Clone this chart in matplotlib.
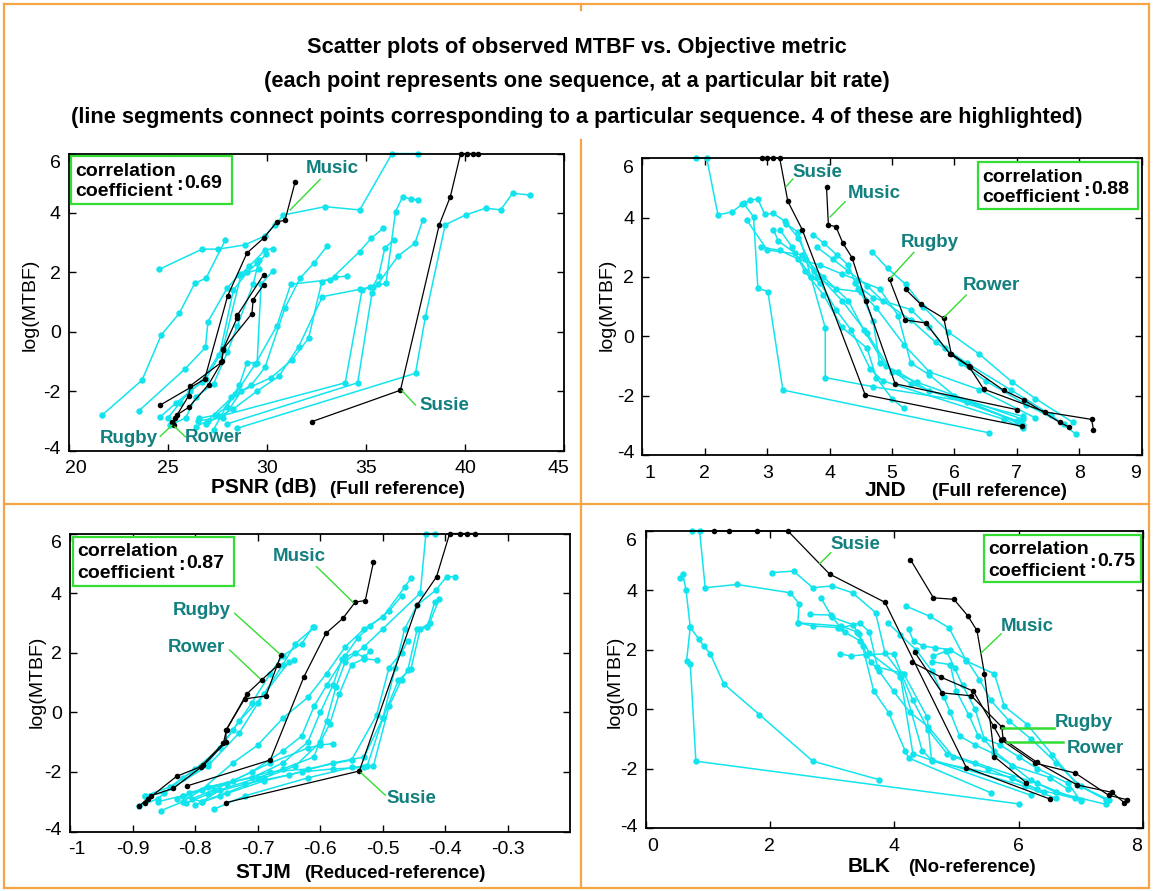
import matplotlib
matplotlib.use('Agg')
import matplotlib.pyplot as plt
from matplotlib.lines import Line2D
from matplotlib.patches import Rectangle
from matplotlib.ticker import FuncFormatter
from matplotlib.transforms import ScaledTranslation

plt.rcParams['font.family'] = ['Liberation Sans', 'DejaVu Sans']
plt.rcParams['axes.unicode_minus'] = False

W, H = 1153, 891

# log(MTBF) of the four highlighted sequences (same in every panel)
susie_y = [-3.03, -1.97, 3.6, 4.55, 6.0, 6.0, 6.0, 6.0]
music_y = [5.04, 3.75, 3.7, 3.15, 2.65, 1.2, -1.6, -2.47]
rugby_y = [1.92, 0.55, 0.45, -0.6, -1.0, -1.78, -2.55, -2.8, -3.15]
rower_y = [1.58, 1.08, 0.61, -0.58, -1.03, -1.82, -2.15, -2.9, -3.05]

# metric values of the highlighted sequences
psnr_susie = [32.26, 36.74, 38.70, 39.26, 39.78, 40.12, 40.41, 40.68]
psnr_music = [31.42, 30.91, 30.5, 29.83, 28.99, 28.01, 26.85, 24.61]
psnr_rugby = [29.83, 28.5, 28.48, 27.78, 27.73, 27.05, 26.04, 25.45, 25.29]
psnr_rower = [29.83, 29.3, 29.24, 27.8, 27.7, 26.13, 26.05, 25.37, 25.2]

jnd_susie = [7.08, 4.57, 3.56, 3.33, 3.2, 3.1, 3.0, 2.92]
jnd_music = [3.95, 3.98, 4.1, 4.21, 4.36, 4.58, 5.05, 7.0]
jnd_rugby = [4.96, 5.21, 5.54, 5.93, 6.23, 6.47, 7.46, 8.2, 8.23]
jnd_rower = [5.22, 5.46, 5.83, 5.95, 6.25, 6.79, 7.12, 7.69, 7.83]

stjm_susie = [-0.751, -0.5375, -0.445, -0.414, -0.393, -0.377, -0.365, -0.353]
stjm_music = [-0.515, -0.528, -0.544, -0.564, -0.591, -0.626, -0.680, -0.813]
stjm_rugby = [-0.663, -0.687, -0.721, -0.751, -0.751, -0.787, -0.835, -0.871, -0.89]
stjm_rower = [-0.668, -0.694, -0.718, -0.75, -0.755, -0.791, -0.83, -0.875, -0.88]

blk_susie = [6.51, 5.16, 3.85, 2.96, 2.29, 1.80, 1.35, 1.10]
blk_music = [4.26, 4.63, 4.96, 5.18, 5.33, 5.45, 5.61, 6.12]
blk_rugby = [4.33, 4.77, 5.24, 5.73, 5.75, 6.29, 6.94, 7.5, 7.7]
blk_rower = [4.29, 4.75, 5.27, 5.6, 5.72, 6.27, 6.91, 7.45, 7.75]

# the other sequences, (metric, log(MTBF)) points
psnr_bg1 = [(21.67, -2.81), (23.69, -1.63), (24.66, -0.11), (25.57, 0.62), (26.35, 1.63), (26.92, 1.8), (27.9, 3.09)]
psnr_bg2 = [(24.56, 2.1), (26.72, 2.78), (27.53, 2.78), (28.87, 2.92), (29.88, 3.22), (30.42, 3.6), (30.83, 3.93),
            (32.94, 4.21), (34.68, 4.1), (36.32, 6.0), (37.64, 6.0)]
psnr_bg3 = [(23.52, -2.67), (25.88, -1.24), (26.89, -0.53), (27.02, 0.34), (27.98, 1.46), (28.57, 1.91), (29.6, 2.1)]
psnr_bg4 = [(24.61, -2.87), (25.4, -2.4), (26.7, -1.7), (27.8, -0.5), (28.7, 1.95), (29.1, 2.2), (29.9, 2.75), (30.3, 2.8)]
psnr_bg5 = [(26.55, -2.92), (27.39, -2.81), (27.98, -2.53), (28.6, -1.8), (28.99, -1.04), (29.5, -1.05), (29.7, 1.6), (30.3, 2.05)]
psnr_bg6 = [(25.1, -3.15), (25.9, -2.9), (26.4, -2.2), (27.3, -1.75), (28.0, -0.7), (28.5, 0.2), (29.3, 1.6), (29.6, 2.4)]
psnr_bg7 = [(27.3, -3.3), (28.2, -2.2), (29.2, -1.8), (29.9, -1.2), (30.9, 0.79), (31.67, 1.8), (32.35, 2.3), (33.02, 2.87)]
psnr_bg8 = [(26.5, -3.0), (27.8, -2.9), (28.7, -2.0), (30.2, -1.55), (31.25, -0.96), (32.1, -0.22), (32.77, 1.69),
            (33.45, 1.83), (34.04, 1.88)]
psnr_bg9 = [(26.9, -3.1), (28.3, -2.6), (29.5, -2.0), (30.6, -1.5), (31.6, -0.5), (32.8, 1.18), (34.71, 1.43),
            (35.35, 1.52), (35.64, 1.88), (35.95, 2.81), (36.4, 3.1)]
psnr_bg10 = [(28.5, -3.25), (37.5, -1.4), (38.0, 0.5), (39.0, 3.6), (40.03, 3.93), (41.05, 4.16), (41.8, 4.1),
             (42.4, 4.66), (43.3, 4.6)]
psnr_bg11 = [(28.0, -3.1), (34.58, -1.72), (35.3, 1.3), (35.6, 1.6), (36.62, 2.55), (37.47, 2.98), (37.87, 3.76)]
psnr_bg12 = [(27.6, -2.85), (33.95, -1.72), (34.8, 1.4), (35.2, 1.5), (36.01, 1.63), (36.49, 4.04), (36.86, 4.55),
             (37.25, 4.46), (37.64, 4.44)]
psnr_bg13 = [(26.4, -3.2), (27.0, -3.0), (28.4, -2.1), (29.4, -1.1), (30.5, 0.2), (31.2, 1.6), (33.2, 1.75),
             (34.68, 2.7), (35.27, 3.15), (35.86, 3.48)]
psnr_bg14 = [(25.0, -2.9), (25.6, -2.4), (26.1, -2.0), (26.9, -1.6), (27.6, -0.8), (28.3, 1.4), (29.0, 2.0),
             (29.5, 2.3), (29.95, 2.6)]

jnd_bg1 = [(1.85, 6.0), (2.03, 6.0), (2.21, 4.09), (2.44, 4.2), (2.6, 4.45), (2.73, 4.6), (2.85, 4.62), (2.96, 4.11),
           (3.09, 4.15), (3.29, 3.87), (3.5, 3.3), (3.75, 2.2), (4.2, 1.2), (4.6, 0.1), (5.0, -1.2), (5.4, -1.55), (7.1, -2.8)]
jnd_bg2 = [(2.62, 4.48), (2.78, 4.03), (2.85, 1.62), (3.01, 1.51), (3.25, -1.81), (6.55, -3.25)]
jnd_bg3 = [(2.67, 3.92), (3.0, 2.91), (3.55, 2.75), (3.9, 2.0), (4.3, 1.2), (4.55, 0.2), (4.9, -1.0), (5.3, -1.6), (7.0, -2.85)]
jnd_bg4 = [(3.1, 3.58), (3.18, 3.21), (3.45, 2.8), (3.7, 2.0), (3.93, 0.29), (3.93, -1.39), (4.7, -1.7), (6.2, -2.2), (7.05, -2.9)]
jnd_bg5 = [(3.74, 3.42), (3.91, 3.13), (4.12, 2.74), (4.3, 2.4), (4.45, 1.6), (4.75, 0.95), (5.2, -0.3), (5.6, -1.2),
           (6.4, -1.8), (7.3, -2.75)]
jnd_bg6 = [(4.68, 2.85), (4.93, 2.29), (5.22, 1.75), (5.5, 1.0), (5.9, 0.15), (6.4, -0.6), (6.92, -1.53), (7.3, -2.1), (7.9, -2.9)]
jnd_bg7 = [(4.4, 1.8), (4.7, 1.3), (5.3, 0.9), (5.6, 0.3), (5.85, -0.4), (6.1, -0.9), (6.5, -1.5), (7.15, -2.3), (7.75, -2.95)]
jnd_bg8 = [(3.6, 2.6), (3.8, 2.0), (4.1, 1.6), (4.5, 1.5), (4.7, 0.5), (4.8, -0.9), (5.1, -1.2), (5.6, -1.85), (7.1, -2.7)]
jnd_bg9 = [(3.3, 3.8), (3.5, 3.5), (3.7, 2.0), (3.85, 1.8), (4.1, 0.9), (4.35, 0.2), (4.65, -1.1), (4.85, -1.5),
           (6.8, -2.8), (7.1, -3.1)]
jnd_bg10 = [(3.2, 3.6), (3.4, 3.0), (3.6, 2.2), (3.9, 1.4), (4.2, 0.3), (4.6, -0.4), (4.75, -1.4), (5.0, -2.1), (5.19, -2.43)]
jnd_bg11 = [(3.8, 3.0), (4.05, 2.6), (4.3, 2.2), (4.6, 1.7), (4.85, 1.2), (5.3, 0.55), (5.7, -0.2), (6.2, -0.9),
            (6.9, -1.8), (7.55, -2.65), (7.95, -3.3)]
jnd_bg12 = [(2.9, 3.0), (3.2, 2.9), (3.5, 2.6), (3.85, 2.4), (4.2, 2.1), (4.45, 1.9), (4.8, 1.6), (5.1, 0.7),
            (5.3, -0.9), (5.6, -1.3), (6.0, -2.0), (7.1, -3.0)]

stjm_bg1 = [(-0.89, -3.15), (-0.86, -2.9), (-0.82, -2.2), (-0.78, -1.7), (-0.74, -0.6), (-0.71, 0.3), (-0.68, 1.3),
            (-0.66, 1.9), (-0.63, 2.3), (-0.612, 2.85)]
stjm_bg2 = [(-0.88, -2.8), (-0.84, -2.5), (-0.80, -1.9), (-0.76, -1.2), (-0.73, -0.3), (-0.69, 0.6), (-0.65, 1.7), (-0.642, 1.75)]
stjm_bg3 = [(-0.855, -3.3), (-0.82, -3.0), (-0.79, -2.6), (-0.74, -1.7), (-0.70, -1.1), (-0.66, -0.2), (-0.62, 0.5),
            (-0.59, 1.3), (-0.56, 2.2), (-0.53, 2.8), (-0.50, 3.2), (-0.465, 4.2), (-0.455, 4.5)]
stjm_bg4 = [(-0.82, -2.8), (-0.79, -3.0), (-0.76, -2.6), (-0.70, -2.2), (-0.66, -1.9), (-0.61, -1.5), (-0.59, -0.3),
            (-0.575, 0.85), (-0.56, 1.7), (-0.53, 2.2), (-0.50, 2.8), (-0.44, 4.0), (-0.431, 6.0), (-0.416, 6.0)]
stjm_bg5 = [(-0.815, -3.05), (-0.78, -2.75), (-0.72, -2.4), (-0.65, -2.1), (-0.58, -1.7), (-0.53, -1.5), (-0.50, -0.2),
            (-0.48, 1.5), (-0.465, 2.8), (-0.445, 3.6), (-0.415, 4.1), (-0.398, 4.55), (-0.384, 4.55)]
stjm_bg6 = [(-0.80, -3.1), (-0.76, -2.8), (-0.69, -2.3), (-0.63, -2.0), (-0.58, -1.9), (-0.53, -1.85), (-0.515, -1.8),
            (-0.49, 0.2), (-0.47, 1.1), (-0.46, 1.42), (-0.445, 2.79), (-0.429, 2.85), (-0.417, 3.7)]
stjm_bg7 = [(-0.805, -2.9), (-0.77, -2.6), (-0.71, -2.0), (-0.66, -1.3), (-0.63, -0.8), (-0.61, 0.2), (-0.59, 0.9),
            (-0.56, 1.9), (-0.54, 2.5), (-0.52, 2.9), (-0.49, 3.4), (-0.47, 3.9)]
stjm_bg8 = [(-0.79, -3.0), (-0.75, -2.7), (-0.69, -2.2), (-0.64, -1.8), (-0.6, -1.0), (-0.585, -0.4), (-0.57, 0.6),
            (-0.55, 1.6), (-0.53, 1.8), (-0.51, 1.75)]
stjm_bg9 = [(-0.81, -2.7), (-0.74, -2.3), (-0.68, -1.7), (-0.62, -1.2), (-0.60, -1.1), (-0.58, -1.05)]
stjm_bg10 = [(-0.83, -2.9), (-0.78, -2.5), (-0.71, -2.2), (-0.66, -1.7), (-0.62, -1.0), (-0.60, 0.0), (-0.58, 0.9),
             (-0.565, 1.8), (-0.545, 2.0), (-0.53, 1.85), (-0.52, 2.05)]
stjm_bg11 = [(-0.77, -3.25), (-0.72, -2.8), (-0.62, -2.2), (-0.55, -1.85), (-0.525, -1.8), (-0.5, -0.2), (-0.475, 1.08),
             (-0.455, 1.45), (-0.44, 2.8), (-0.425, 3.0), (-0.41, 3.8)]
stjm_bg12 = [(-0.86, -3.0), (-0.82, -2.8), (-0.75, -2.4), (-0.68, -2.0), (-0.62, -1.9), (-0.55, -1.6), (-0.51, -0.1),
             (-0.49, 1.5), (-0.47, 2.0), (-0.46, 2.4)]
stjm_bg13 = [(-0.88, -2.8), (-0.85, -2.7), (-0.78, -1.8), (-0.73, -0.7), (-0.70, 0.3), (-0.66, 1.6), (-0.64, 2.3), (-0.61, 2.85)]

blk_bg1 = [(0.75, 6.0), (0.87, 6.0), (0.96, 4.09), (1.47, 4.2), (2.33, 3.92), (2.47, 3.55), (2.45, 2.91), (3.15, 2.8),
           (3.4, 2.6), (3.6, 1.9), (4.1, 1.1), (4.3, -1.5), (6.2, -2.9)]
blk_bg2 = [(0.55, 4.43), (0.6, 4.54), (0.65, 4.03), (0.72, 2.76), (0.66, 1.62), (0.72, 1.51), (0.81, -1.75), (6.01, -3.19)]
blk_bg3 = [(0.72, 2.76), (0.86, 2.35), (0.94, 2.12), (1.04, 1.87), (1.26, 0.85), (1.83, -0.18), (2.69, -1.75), (3.75, -2.37)]
blk_bg4 = [(2.04, 4.6), (2.38, 4.65), (2.69, 4.09), (3.0, 4.15), (3.33, 3.92), (3.7, 3.25), (3.85, 1.9), (4.1, 1.2),
           (4.45, -1.4), (4.6, -1.7), (6.1, -2.6), (6.6, -3.0)]
blk_bg5 = [(2.82, 3.75), (3.0, 3.1), (3.33, 2.85), (3.43, 2.54), (3.49, 2.12), (3.67, 0.61), (3.91, -0.12), (4.18, -1.42),
           (4.23, -1.64), (5.56, -2.82)]
blk_bg6 = [(2.64, 3.19), (2.98, 3.17), (3.14, 2.74), (3.45, 2.9), (3.6, 2.6), (3.73, 1.42), (4.15, 1.2), (4.53, -0.27),
           (4.6, -1.75), (5.9, -2.3), (6.4, -2.8)]
blk_bg7 = [(3.12, 1.87), (3.3, 1.79), (3.54, 1.84), (3.99, 1.87), (4.12, 1.17), (4.3, 0.3), (4.55, -0.7), (4.85, -1.5),
           (5.3, -1.8), (6.3, -2.5), (6.9, -3.0)]
blk_bg8 = [(2.45, 2.91), (2.7, 2.8), (3.1, 2.75), (3.2, 2.6), (3.45, 2.3), (3.62, 1.6), (3.75, 1.3), (3.99, 0.6),
           (4.25, -0.1), (4.55, -0.6), (4.95, -1.6), (5.5, -2.0), (6.3, -2.7), (7.0, -3.05)]
blk_bg9 = [(4.19, 3.47), (4.57, 3.13), (4.88, 2.74), (5.16, 1.62), (5.61, 1.19), (5.77, 0.1), (6.14, -0.52),
           (6.54, -1.53), (6.94, -2.54), (7.4, -3.05)]
blk_bg10 = [(4.23, 2.69), (4.31, 2.29), (4.47, 2.12), (4.66, 2.07), (4.89, 2.01), (5.16, 1.67), (5.37, 1.0), (5.55, 0.3),
            (5.85, -0.4), (6.2, -1.0), (6.6, -1.8), (7.0, -2.6), (7.45, -3.05)]
blk_bg11 = [(4.63, 1.79), (4.84, 1.96), (4.97, 1.39), (5.1, 0.8), (5.3, 0.0), (5.45, -1.02), (5.6, -1.4), (5.9, -1.9),
            (6.2, -2.4), (6.6, -2.8), (7.4, -3.2)]
blk_bg12 = [(4.6, 1.6), (4.9, 1.5), (5.0, 0.6), (5.2, -0.2), (5.35, -0.9), (5.7, -1.2), (6.0, -1.6), (6.3, -2.0),
            (6.8, -2.5), (7.0, -3.1)]
blk_bg13 = [(3.9, 2.9), (4.1, 2.5), (4.35, 2.0), (4.6, 1.3), (4.8, 0.4), (4.9, -0.1), (5.05, -0.9), (5.3, -1.2),
            (5.6, -1.5), (5.9, -1.9), (6.5, -2.3), (6.8, -2.7)]

# sequence labels: (name, label centre, leader start, leader end, leader width)
psnr_notes = [('Music', (33.28, 5.5), (32.69, 5.13), (31.17, 4.1), 1.0),
              ('Susie', (38.94, -2.5), (37.5, -2.47), (36.82, -1.99), 1.0),
              ('Rugby', (23.01, -3.6), (24.61, -3.52), (25.2, -3.15), 1.0),
              ('Rower', (27.31, -3.56), (25.88, -3.54), (25.34, -3.2), 1.0)]
jnd_notes = [('Susie', (3.8, 5.53), (3.41, 5.3), (3.3, 5.04), 1.0),
             ('Music', (4.72, 4.82), (4.25, 4.54), (4.01, 4.03), 1.0),
             ('Rugby', (5.61, 3.17), (5.35, 2.83), (4.96, 1.93), 1.0),
             ('Rower', (6.6, 1.71), (6.19, 1.39), (5.83, 0.63), 1.0)]
stjm_notes = [('Music', (-0.633, 5.22), (-0.606, 4.89), (-0.547, 3.68), 1.0),
              ('Rugby', (-0.79, 3.43), (-0.737, 3.32), (-0.665, 1.96), 1.0),
              ('Rower', (-0.798, 2.18), (-0.745, 2.09), (-0.697, 1.14), 1.0),
              ('Susie', (-0.454, -2.89), (-0.496, -2.78), (-0.535, -2.03), 1.0)]
blk_notes = [('Susie', (3.37, 5.55), (2.98, 5.27), (2.8, 4.9), 1.0),
             ('Music', (6.14, 2.8), (5.72, 2.54), (5.4, 1.9), 1.0),
             ('Rugby', (7.04, -0.45), (6.57, -0.62), (5.73, -0.62), 1.8),
             ('Rower', (7.23, -1.31), (6.72, -1.11), (5.82, -1.11), 1.8)]

psnr_corr, jnd_corr, stjm_corr, blk_corr = '0.69', '0.88', '0.87', '0.75'

titles = ['Scatter plots of observed MTBF vs. Objective metric',
          '(each point represents one sequence, at a particular bit rate)',
          '(line segments connect points corresponding to a particular sequence. 4 of these are highlighted)']

CYAN = '#12e4ee'
TEAL = '#12807f'
GREEN = '#33dd33'
ORANGE = '#f7a445'


def px_rect(l, t, r, b):
    return [l / W, 1 - b / H, (r - l) / W, (b - t) / H]


def fig_text(fig, x, y, s, **kw):
    return fig.text(x / W, 1 - y / H, s, **kw)


def nudge(label, dx, dy):
    # shift a tick label by a few pixels (MATLAB keeps end labels inside the box)
    label.set_transform(label.get_transform() + ScaledTranslation(dx / 100, dy / 100, label.figure.dpi_scale_trans))


def draw_panel(fig, rect, background, highlighted, xlim, xticks, notes, corr, box, names):
    ax = fig.add_axes(px_rect(*rect))
    for seq in background:
        xs = [p[0] for p in seq]
        ys = [p[1] for p in seq]
        ax.plot(xs, ys, '-o', color=CYAN, lw=1.1, ms=4.6, mew=0, clip_on=False, zorder=2)
    for xs, ys in highlighted:
        ax.plot(xs, ys, '-o', color='black', lw=0.9, ms=4.0, mew=0, clip_on=False, zorder=3)

    ax.set_xlim(*xlim)
    ax.set_ylim(-4, 6)
    ax.set_xticks(xticks)
    ax.set_yticks([-4, -2, 0, 2, 4, 6])
    ax.xaxis.set_major_formatter(FuncFormatter(lambda v, p: '%g' % round(v, 2)))
    ax.tick_params(direction='in', top=True, right=True, length=5, width=1,
                   labelsize=14, colors='black')
    ax.tick_params(axis='x', pad=7)
    ax.tick_params(axis='y', pad=6)
    for s in ax.spines.values():
        s.set_linewidth(1.3)
    yl = ax.get_yticklabels()
    nudge(yl[-1], 0, -8)
    nudge(yl[0], 0, 3)
    xl = ax.get_xticklabels()
    nudge(xl[0], 7, 0)
    if xticks[-1] == xlim[1]:
        nudge(xl[-1], -6, 0)

    for name, lab, p0, p1, lw in notes:
        ax.plot([p0[0], p1[0]], [p0[1], p1[1]], color=GREEN, lw=lw, zorder=4, clip_on=False)
        ax.text(lab[0], lab[1], name, color=TEAL, fontsize=13.5, fontweight='bold',
                ha='center', va='center', zorder=5)

    # correlation box, placed in pixels
    l, t, r, b = box
    fig.add_artist(Rectangle((l / W, 1 - b / H), (r - l) / W, (b - t) / H, transform=fig.transFigure,
                             facecolor='white', edgecolor=GREEN, lw=1.6, zorder=10))
    fig_text(fig, l + 4, t + 15, 'correlation', fontsize=14, fontweight='bold', va='center', zorder=11)
    fig_text(fig, l + 4, t + 36, 'coefficient', fontsize=14, fontweight='bold', va='center', zorder=11)
    fig_text(fig, l + 105, t + 29, ':', fontsize=14, fontweight='bold', va='center', zorder=11)
    fig_text(fig, l + 113, t + 27, corr, fontsize=14, fontweight='bold', va='center', zorder=11)

    # axis labels
    (main, mx, sub, sx, ly), (ylx, yly) = names
    fig_text(fig, mx, ly, main, fontsize=15, fontweight='bold', va='center')
    fig_text(fig, sx, ly + 1, sub, fontsize=13.5, fontweight='bold', va='center')
    fig_text(fig, ylx, yly, 'log(MTBF)', fontsize=14, rotation=90, ha='center', va='center')
    return ax


fig = plt.figure(figsize=(W / 100, H / 100), dpi=100)

for i, s in enumerate(titles):
    fig_text(fig, W / 2, [47, 81, 117][i], s, fontsize=15.7, fontweight='bold', ha='center', va='center')

draw_panel(fig, (69, 153.5, 564, 450.5),
           [psnr_bg1, psnr_bg2, psnr_bg3, psnr_bg4, psnr_bg5, psnr_bg6, psnr_bg7, psnr_bg8, psnr_bg9,
            psnr_bg10, psnr_bg11, psnr_bg12, psnr_bg13, psnr_bg14],
           [(psnr_susie, susie_y), (psnr_music, music_y), (psnr_rugby, rugby_y), (psnr_rower, rower_y)],
           (20, 45), [20, 25, 30, 35, 40, 45], psnr_notes, psnr_corr, (71, 156, 232, 204),
           (('PSNR (dB)', 211, '(Full reference)', 330, 488), (30, 305)))

draw_panel(fig, (642.5, 158.3, 1141.5, 455),
           [jnd_bg1, jnd_bg2, jnd_bg3, jnd_bg4, jnd_bg5, jnd_bg6, jnd_bg7, jnd_bg8, jnd_bg9,
            jnd_bg10, jnd_bg11, jnd_bg12],
           [(jnd_susie, susie_y), (jnd_music, music_y), (jnd_rugby, rugby_y), (jnd_rower, rower_y)],
           (1, 9), list(range(1, 10)), jnd_notes, jnd_corr, (978, 162, 1138, 209),
           (('JND', 865, '(Full reference)', 932, 490), (607, 305)))

draw_panel(fig, (70.3, 533.5, 570.3, 831.5),
           [stjm_bg1, stjm_bg2, stjm_bg3, stjm_bg4, stjm_bg5, stjm_bg6, stjm_bg7, stjm_bg8, stjm_bg9,
            stjm_bg10, stjm_bg11, stjm_bg12, stjm_bg13],
           [(stjm_susie, susie_y), (stjm_music, music_y), (stjm_rugby, rugby_y), (stjm_rower, rower_y)],
           (-1, -0.2), [-1, -0.9, -0.8, -0.7, -0.6, -0.5, -0.4, -0.3], stjm_notes, stjm_corr, (73, 537, 234, 586),
           (('STJM', 235, '(Reduced-reference)', 304, 873), (37, 682)))

draw_panel(fig, (645.5, 531, 1143, 828),
           [blk_bg1, blk_bg2, blk_bg3, blk_bg4, blk_bg5, blk_bg6, blk_bg7, blk_bg8, blk_bg9,
            blk_bg10, blk_bg11, blk_bg12, blk_bg13],
           [(blk_susie, susie_y), (blk_music, music_y), (blk_rugby, rugby_y), (blk_rower, rower_y)],
           (0, 8), [0, 2, 4, 6, 8], blk_notes, blk_corr, (984, 535, 1141, 582),
           (('BLK', 848, '(No-reference)', 908, 867), (615, 682)))

# orange frame around the figure and the panel dividers
frame = [((4, 1149), (4, 4)), ((4, 1149), (888, 888)), ((4, 4), (4, 888)), ((1149, 1149), (4, 888)),
         ((4, 1149), (504, 504)), ((581, 581), (140, 888)), ((581, 581), (4, 10))]
for xs, ys in frame:
    fig.add_artist(Line2D([x / W for x in xs], [1 - y / H for y in ys], transform=fig.transFigure,
                          color=ORANGE, lw=1.6))

fig.savefig('out.png', dpi=100, facecolor='white')
